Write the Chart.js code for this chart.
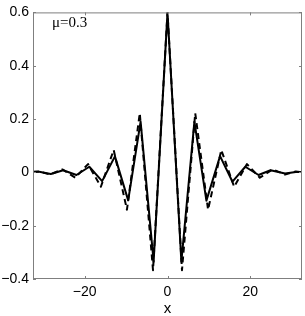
<!DOCTYPE html>
<html>
<head>
  <meta charset="UTF-8">
  <title>mu = 0.3</title>
  <script src="https://cdn.jsdelivr.net/npm/chart.js"></script>
  <style>
    html, body { margin: 0; padding: 0; background: #fff; }
    #wrap { width: 305px; height: 316px; }
  </style>
</head>
<body>
  <div id="wrap"><canvas id="chart" width="305" height="316"></canvas></div>

  <script>
    // solid curve (extrema)
    const solidX = [-32.5, -31, -28.2, -25.2, -22, -18.9, -15.8, -12.7, -9.5, -6.5, -3.35, 0,
                    3.35, 6.5, 9.4, 12.7, 15.7, 18.8, 22, 24.9, 28.4, 31, 32.5];
    const solidY = [0.002, 0.002, -0.006, 0.008, -0.01, 0.021, -0.033, 0.06, -0.105, 0.19, -0.335, 0.6,
                    -0.335, 0.19, -0.106, 0.061, -0.035, 0.021, -0.01, 0.008, -0.004, 0.001, 0.001];

    // dashed curve
    const dashX = [-32.5, -31, -28.4, -25.4, -22.3, -19.2, -16.1, -13, -9.8, -6.7, -3.5, 0,
                   3.5, 6.7, 9.8, 13, 16.1, 19.2, 22.3, 25.4, 28.4, 31, 32.5];
    const dashY = [0.001, 0.003, -0.008, 0.011, -0.02, 0.031, -0.054, 0.084, -0.14, 0.222, -0.367, 0.6,
                   -0.367, 0.222, -0.14, 0.084, -0.054, 0.031, -0.02, 0.011, -0.008, 0.003, 0.001];

    const xTicks = [-20, 0, 20];
    const yTicks = [-0.4, -0.2, 0, 0.2, 0.4, 0.6];
    const xRange = [-32.5, 32.5];
    const yRange = [-0.4, 0.6];
    const label = 'μ=0.3';

    function fmt(v) {
      if (Math.abs(v) < 1e-9) return '0';
      const s = Number.isInteger(v) ? String(Math.abs(v)) : Math.abs(v).toFixed(1);
      return (v < 0 ? '−' : '') + s;
    }

    // box round the axes, ticks pointing inward on all four sides, and the note
    const framePlugin = {
      id: 'frame',
      afterDatasetsDraw(chart) {
        const { ctx, chartArea: a, scales: { x, y } } = chart;
        ctx.save();
        ctx.strokeStyle = '#7f7f7f';
        ctx.lineWidth = 1;
        ctx.strokeRect(a.left + 0.5, a.top + 0.5, a.right - a.left - 1, a.bottom - a.top - 1);
        ctx.beginPath();
        xTicks.forEach(v => {
          const px = Math.round(x.getPixelForValue(v)) + 0.5;
          ctx.moveTo(px, a.bottom); ctx.lineTo(px, a.bottom - 3);
          ctx.moveTo(px, a.top); ctx.lineTo(px, a.top + 3);
        });
        yTicks.forEach(v => {
          const py = Math.round(y.getPixelForValue(v)) + 0.5;
          ctx.moveTo(a.left, py); ctx.lineTo(a.left + 3, py);
          ctx.moveTo(a.right, py); ctx.lineTo(a.right - 3, py);
        });
        ctx.stroke();
        ctx.fillStyle = '#000';
        ctx.font = '15px "Liberation Serif", "DejaVu Serif", serif';
        ctx.textBaseline = 'alphabetic';
        ctx.fillText(label, x.getPixelForValue(-27.9), y.getPixelForValue(0.545));
        ctx.restore();
      }
    };

    const ctx = document.getElementById('chart').getContext('2d');
    new Chart(ctx, {
      type: 'scatter',
      data: {
        datasets: [
          {
            label: 'dashed',
            data: dashX.map((v, i) => ({ x: v, y: dashY[i] })),
            showLine: true,
            borderColor: '#000',
            borderWidth: 2,
            borderDash: [6, 4],
            borderJoinStyle: 'round',
            pointRadius: 0,
            tension: 0
          },
          {
            label: 'solid',
            data: solidX.map((v, i) => ({ x: v, y: solidY[i] })),
            showLine: true,
            borderColor: '#000',
            borderWidth: 2,
            borderJoinStyle: 'round',
            pointRadius: 0,
            tension: 0
          }
        ]
      },
      options: {
        responsive: false,
        animation: false,
        devicePixelRatio: 1,
        layout: { padding: { top: 12, right: 3, left: 0, bottom: 0 } },
        plugins: { legend: { display: false }, tooltip: { enabled: false } },
        scales: {
          x: {
            type: 'linear',
            min: xRange[0], max: xRange[1],
            afterBuildTicks: s => { s.ticks = xTicks.map(v => ({ value: v })); },
            afterFit: s => { s.height = 37; },
            grid: { display: false, drawTicks: false },
            border: { display: false },
            ticks: {
              color: '#000', padding: 5,
              font: { family: '"Liberation Sans", Arial, sans-serif', size: 14 },
              callback: v => fmt(v)
            },
            title: {
              display: true, text: 'x', color: '#000',
              padding: { top: 0, bottom: 0 },
              font: { family: '"Liberation Sans", Arial, sans-serif', size: 15, lineHeight: 1 }
            }
          },
          y: {
            type: 'linear',
            min: yRange[0], max: yRange[1],
            afterBuildTicks: s => { s.ticks = yTicks.map(v => ({ value: v })); },
            afterFit: s => { s.width = 33; },
            grid: { display: false, drawTicks: false },
            border: { display: false },
            ticks: {
              color: '#000', padding: 4,
              font: { family: '"Liberation Sans", Arial, sans-serif', size: 14 },
              callback: v => fmt(v)
            }
          }
        }
      },
      plugins: [framePlugin]
    });
  </script>
</body>
</html>
